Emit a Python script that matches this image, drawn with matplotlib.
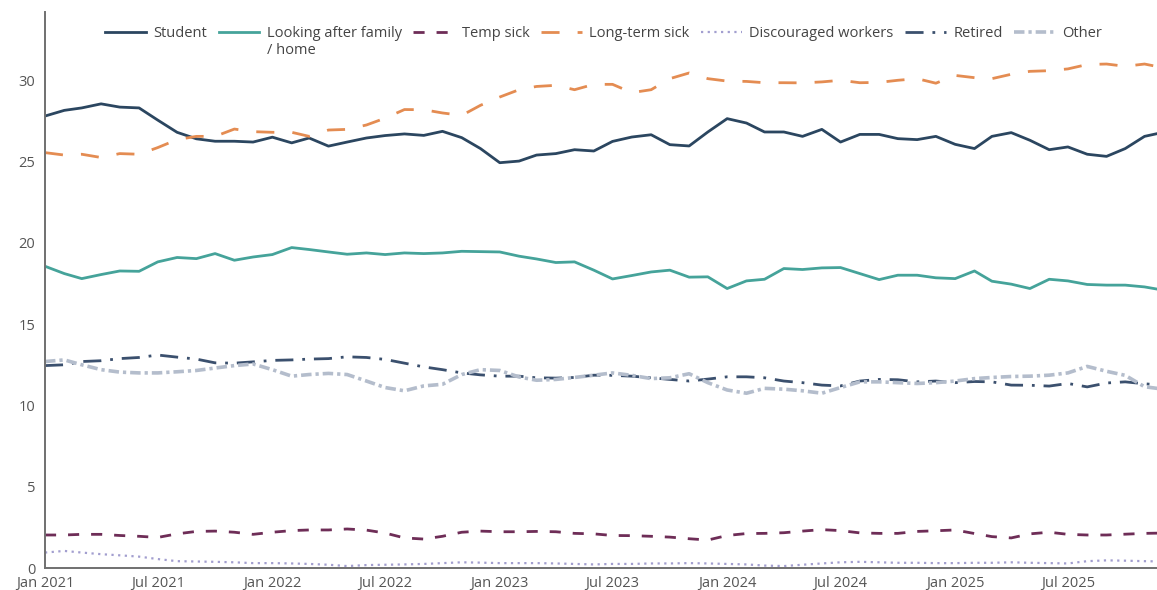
import matplotlib
matplotlib.use("Agg")
import matplotlib.pyplot as plt
import matplotlib.dates as mdates
import pandas as pd

# monthly series, Jan 2021 - Dec 2025
months = pd.date_range("2021-01-01", periods=60, freq="MS")

student = [27.8, 28.15, 28.3, 28.55, 28.35, 28.3, 27.55, 26.8, 26.4, 26.25,
           26.25, 26.2, 26.5, 26.15, 26.45, 25.95, 26.2, 26.45, 26.6, 26.7,
           26.61, 26.86, 26.47, 25.8, 24.93, 25.03, 25.4, 25.49, 25.73, 25.65,
           26.24, 26.51, 26.65, 26.04, 25.96, 26.82, 27.64, 27.37, 26.82, 26.82,
           26.55, 26.98, 26.2, 26.67, 26.67, 26.41, 26.35, 26.55, 26.06, 25.8,
           26.55, 26.78, 26.31, 25.73, 25.9, 25.45, 25.32, 25.8, 26.55, 26.8]

family = [18.56, 18.11, 17.8, 18.05, 18.27, 18.25, 18.83, 19.1, 19.03, 19.34,
          18.93, 19.13, 19.28, 19.71, 19.59, 19.44, 19.3, 19.38, 19.28, 19.38,
          19.34, 19.38, 19.48, 19.46, 19.44, 19.18, 19.01, 18.79, 18.83, 18.32,
          17.78, 17.99, 18.21, 18.32, 17.89, 17.91, 17.19, 17.66, 17.76, 18.42,
          18.36, 18.46, 18.48, 18.11, 17.74, 18.01, 18.01, 17.85, 17.8, 18.27,
          17.64, 17.46, 17.19, 17.76, 17.66, 17.44, 17.4, 17.4, 17.29, 17.09]

temp_sick = [2.03, 2.03, 2.07, 2.07, 2.0, 1.95, 1.88, 2.1, 2.25, 2.27,
             2.2, 2.07, 2.2, 2.3, 2.34, 2.34, 2.4, 2.33, 2.15, 1.85,
             1.78, 1.95, 2.2, 2.27, 2.23, 2.23, 2.25, 2.23, 2.13, 2.1,
             2.0, 1.99, 1.95, 1.9, 1.8, 1.72, 2.0, 2.12, 2.13, 2.17,
             2.27, 2.36, 2.3, 2.16, 2.13, 2.13, 2.25, 2.29, 2.34, 2.12,
             1.93, 1.85, 2.1, 2.2, 2.07, 2.03, 2.03, 2.08, 2.13, 2.15]

long_sick = [25.55, 25.4, 25.45, 25.25, 25.49, 25.45, 25.86, 26.35, 26.55, 26.55,
             27.0, 26.84, 26.8, 26.8, 26.55, 26.94, 26.98, 27.25, 27.67, 28.2,
             28.19, 27.99, 27.84, 28.46, 28.97, 29.42, 29.62, 29.69, 29.42, 29.75,
             29.75, 29.24, 29.42, 30.1, 30.45, 30.1, 29.95, 29.93, 29.85, 29.85,
             29.84, 29.9, 30.0, 29.85, 29.87, 30.0, 30.1, 29.82, 30.3, 30.16,
             30.1, 30.37, 30.55, 30.59, 30.7, 30.97, 31.0, 30.86, 31.0, 30.77]

discouraged = [0.95, 1.05, 0.95, 0.85, 0.78, 0.7, 0.55, 0.42, 0.4, 0.38,
               0.35, 0.3, 0.3, 0.28, 0.25, 0.2, 0.12, 0.18, 0.2, 0.22,
               0.25, 0.3, 0.35, 0.33, 0.3, 0.3, 0.3, 0.28, 0.25, 0.22,
               0.25, 0.25, 0.28, 0.28, 0.3, 0.28, 0.25, 0.22, 0.15, 0.12,
               0.2, 0.28, 0.35, 0.38, 0.35, 0.32, 0.32, 0.3, 0.3, 0.32,
               0.32, 0.35, 0.32, 0.3, 0.28, 0.42, 0.47, 0.45, 0.42, 0.4]

retired = [12.45, 12.5, 12.7, 12.75, 12.88, 12.95, 13.1, 12.97, 12.85, 12.62,
           12.6, 12.68, 12.77, 12.8, 12.85, 12.88, 12.99, 12.95, 12.83, 12.6,
           12.37, 12.2, 12.0, 11.88, 11.8, 11.8, 11.7, 11.68, 11.72, 11.86,
           11.85, 11.8, 11.7, 11.6, 11.5, 11.62, 11.76, 11.76, 11.7, 11.5,
           11.4, 11.25, 11.2, 11.5, 11.6, 11.58, 11.45, 11.5, 11.4, 11.47,
           11.45, 11.25, 11.24, 11.19, 11.35, 11.14, 11.38, 11.45, 11.33, 11.25]

other = [12.7, 12.8, 12.5, 12.2, 12.05, 12.0, 12.0, 12.07, 12.15, 12.3,
         12.45, 12.55, 12.2, 11.8, 11.9, 11.97, 11.9, 11.5, 11.1, 10.9,
         11.2, 11.3, 11.9, 12.2, 12.15, 11.75, 11.55, 11.6, 11.72, 11.86,
         12.0, 11.85, 11.65, 11.7, 11.95, 11.4, 10.95, 10.75, 11.05, 11.0,
         10.9, 10.75, 11.1, 11.45, 11.45, 11.4, 11.35, 11.4, 11.5, 11.65,
         11.72, 11.78, 11.8, 11.86, 12.0, 12.4, 12.1, 11.85, 11.15, 11.0]

series = [
    ("Student", student, "#2b4660", 2.0, "-"),
    ("Looking after family", family, "#45a39a", 2.0, "-"),
    ("Temp sick", temp_sick, "#6e2d57", 2.0, (0, (4, 4.3))),
    ("Long-term sick", long_sick, "#e48c52", 2.0, (0, (6.5, 6.5))),
    ("Discouraged workers", discouraged, "#a29ecf", 1.6, (0, (1, 2))),
    ("Retired", retired, "#3b506e", 2.0, (0, (6.5, 3.2, 1, 3.2))),
    ("Other", other, "#b4bdcc", 2.6, (0, (2.9, 1.1, 0.9, 1.1))),
]

plt.rcParams["font.family"] = ["Open Sans", "DejaVu Sans"]

W, H = 1157, 590
fig = plt.figure(figsize=(W / 100, H / 100), dpi=100)
ax = fig.add_axes([45 / W, 22 / H, 1112 / W, 556 / H])

for name, vals, col, lw, ls in series:
    ax.plot(months, vals, color=col, lw=lw, linestyle=ls, label=name,
            dash_capstyle="butt", solid_joinstyle="round")

ax.set_xlim(pd.Timestamp("2021-01-01"), pd.Timestamp("2025-11-21"))
ax.set_ylim(0, 34.2)
ax.set_yticks([0, 5, 10, 15, 20, 25, 30])

ax.xaxis.set_major_locator(mdates.MonthLocator(bymonth=[1, 7]))
ax.xaxis.set_major_formatter(mdates.DateFormatter("%b %Y"))

for side in ("top", "right"):
    ax.spines[side].set_visible(False)
for side in ("left", "bottom"):
    ax.spines[side].set_color("#707070")
    ax.spines[side].set_linewidth(1.4)

ax.tick_params(axis="both", length=0, labelsize=10.5, labelcolor="#555555")
ax.tick_params(axis="x", pad=6)
ax.tick_params(axis="y", pad=7)

leg = ax.legend(loc="upper left", bbox_to_anchor=(105 / W, 1 - 26 / H),
                bbox_transform=fig.transFigure, ncol=7, frameon=False,
                fontsize=10.5, handlelength=2.8, handletextpad=0.5,
                columnspacing=0.8, borderpad=0, borderaxespad=0)
for t in leg.get_texts():
    t.set_color("#444444")

# second line of the wrapped legend label, set just under the first
fig.canvas.draw()
bb = leg.get_texts()[1].get_window_extent()
fig.text(bb.x0 / W, (bb.y0 - 2) / H, "/ home", fontsize=10.5,
         color="#444444", ha="left", va="top")

fig.savefig("out.png", dpi=100)
